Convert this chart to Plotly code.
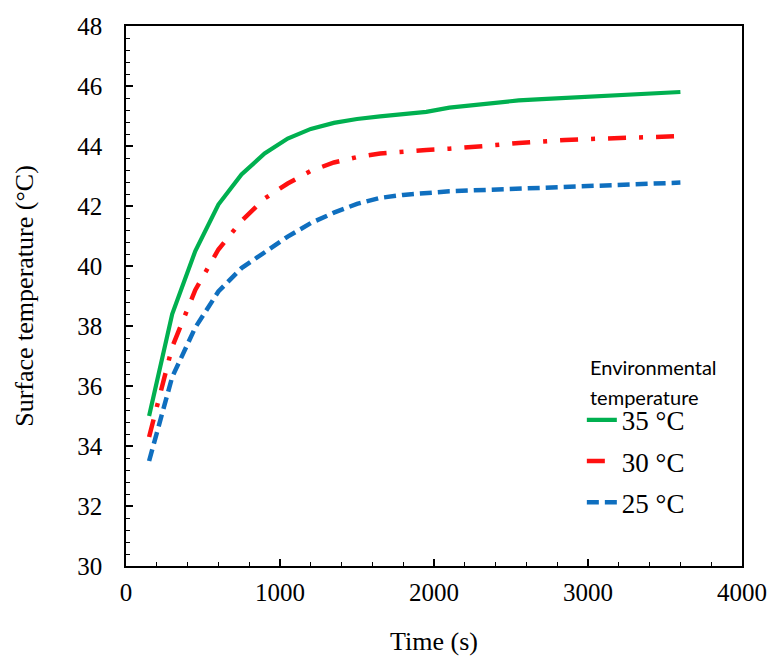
import plotly.graph_objects as go

time_s = [150, 300, 450, 600, 750, 900, 1050, 1200, 1350, 1500, 1650, 1800,
          1950, 2100, 2250, 2400, 2550, 2700, 2850, 3000, 3150, 3300, 3450, 3600]

temp_35 = [35.0, 38.4, 40.5, 42.05, 43.05, 43.75, 44.25, 44.57, 44.77, 44.9, 44.99, 45.06,
           45.14, 45.28, 45.37, 45.45, 45.52, 45.56, 45.6, 45.64, 45.68, 45.72, 45.76, 45.8]
temp_30 = [34.3, 37.3, 39.2, 40.55, 41.5, 42.25, 42.75, 43.17, 43.45, 43.63, 43.75, 43.82,
           43.87, 43.91, 43.96, 44.03, 44.1, 44.16, 44.2, 44.23, 44.26, 44.29, 44.31, 44.33]
temp_25 = [33.5, 36.3, 37.95, 39.15, 39.93, 40.45, 40.98, 41.43, 41.78, 42.07, 42.27, 42.37,
           42.44, 42.49, 42.52, 42.55, 42.58, 42.6, 42.63, 42.65, 42.69, 42.72, 42.75, 42.78]

series_names = ["35 °C", "30 °C", "25 °C"]
series_values = [temp_35, temp_30, temp_25]
series_colors = ["#00B050", "#FF1010", "#0F6FBF"]
series_dash = ["solid", "18px,13px,4px,13px", "12px,6px"]
series_width = [4.2, 4.5, 4.5]

legend_title_lines = ["Environmental", "temperature"]

serif = "Liberation Serif, Times New Roman, serif"
sans = "Lato, Carlito, sans-serif"

fig = go.Figure()
for name, vals, col, dash, w in zip(series_names, series_values, series_colors, series_dash, series_width):
    fig.add_trace(go.Scatter(
        x=time_s, y=vals, mode="lines", name=name, legendgroup=name,
        line=dict(color=col, width=w, dash=dash),
    ))

axis_common = dict(
    showline=True, linecolor="black", linewidth=1.5, mirror=True,
    ticks="inside", ticklen=7, tickwidth=1.5, tickcolor="black",
    showgrid=False, zeroline=False, automargin=False,
    tickfont=dict(family=serif, size=25, color="black"),
)

fig.update_xaxes(
    range=[0, 4000], dtick=1000, tick0=0,
    minor=dict(dtick=200, ticks="inside", ticklen=4, tickwidth=1.2, tickcolor="black"),
    ticklabelstandoff=3,
    title=dict(text="Time (s)", font=dict(family=serif, size=26, color="black"), standoff=27),
    **axis_common,
)
fig.update_yaxes(
    range=[30, 48], dtick=2, tick0=30,
    minor=dict(dtick=0.4, ticks="inside", ticklen=4, tickwidth=1.2, tickcolor="black"),
    ticklabelstandoff=17,
    title=dict(text="Surface temperature (°C)", font=dict(family=serif, size=26, color="black"), standoff=36),
    **axis_common,
)

# legend title drawn as two text lines (Calibri-like sans)
for i, line in enumerate(legend_title_lines):
    fig.add_annotation(
        xref="paper", yref="paper", x=0.750, y=(566 - (367 + 30 * i)) / 540,
        text=line, showarrow=False, xanchor="left", yanchor="middle",
        font=dict(family=sans, size=20, color="black"),
    )

fig.update_layout(
    width=769, height=659,
    margin=dict(l=126, r=27, t=26, b=93),
    plot_bgcolor="white", paper_bgcolor="white",
    showlegend=True,
    legend=dict(
        x=0.74, y=0.315, xanchor="left", yanchor="top",
        bgcolor="rgba(0,0,0,0)",
        font=dict(family=serif, size=27, color="black"),
        tracegroupgap=3,
        itemwidth=30,
    ),
)

fig.write_html(
    "out.html",
    config={"displayModeBar": False},
    post_script="document.body.style.margin='0';document.body.style.overflow='hidden';",
)
